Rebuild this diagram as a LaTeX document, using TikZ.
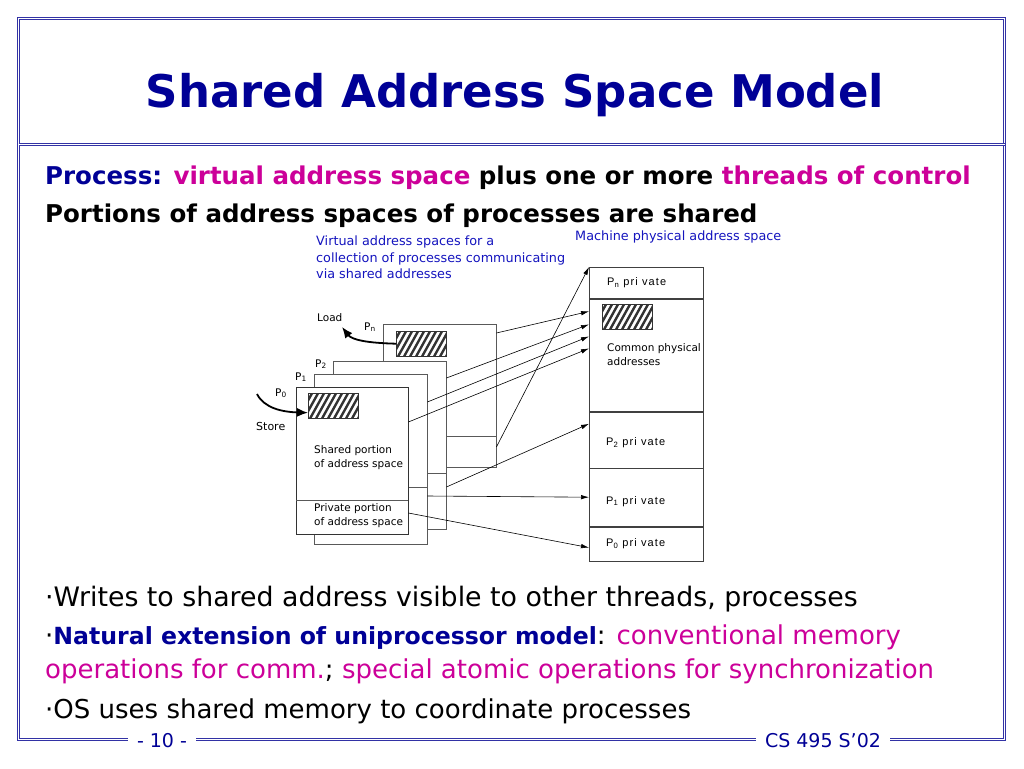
\documentclass[tikz,border=0pt]{standalone}
\usepackage{fontspec}
\setmainfont{DejaVu Sans}
\newfontfamily\labelfont[LetterSpace=10]{Liberation Sans}
\usetikzlibrary{positioning,calc,arrows.meta}

\definecolor{navy}{RGB}{0,0,150}
\definecolor{plum}{RGB}{204,0,153}
\definecolor{capblue}{RGB}{20,20,190}
\definecolor{framec}{RGB}{50,50,165}

\tikzset{
	page/.style={draw=black!65, fill=white, anchor=north west, inner sep=0pt},
	mem/.style={draw=black!75, minimum width=114pt, inner sep=0pt},
	memtext/.style={inner sep=0pt, anchor=west, align=left, font=\labelfont\fontsize{11}{13}\selectfont},
	hatch/.style={draw=black!80, anchor=north west, minimum width=50pt, minimum height=25pt, inner sep=0pt,
		path picture={\foreach \k in {-3,...,10} {\draw[line width=2.4pt] ($(path picture bounding box.south west)+(\k*6pt-4pt,0pt)$) -- ++(15pt,27pt);}}},
	lbl/.style={inner sep=0pt, font=\fontsize{10.5}{14}\selectfont, align=left},
	link/.style={-{Latex[length=8pt,width=4.5pt]}, line width=0.6pt},
	heavy/.style={-{Latex[length=11pt,width=9pt]}, line width=1.8pt},
	body/.style={anchor=base west, inner sep=0pt, font=\fontsize{26}{30}\selectfont},
	bodybold/.style={anchor=base west, inner sep=0pt, font=\fontsize{24.5}{28}\selectfont\bfseries}
}

\begin{document}
\begin{tikzpicture}[x=1pt,y=-1pt]
		\useasboundingbox (0,0) rectangle (1024,768);
		% slide frame
		\draw[framec, double=white, double distance=1.4pt, line width=1.1pt] (18.5,18.5) rectangle (1004.5,739.5);
		\draw[framec, double=white, double distance=1.4pt, line width=1.1pt] (18.5,144.5) -- (1004.5,144.5);
		\node[fill=white, inner xsep=9pt, inner ysep=2pt, text=navy, font=\fontsize{19}{22}\selectfont] (pgnum) at (162,741) {- 10 -};
		\node[fill=white, inner xsep=9pt, inner ysep=2pt, text=navy, font=\fontsize{19}{22}\selectfont] (course) at (823,741) {CS 495 S'02};
		\node[anchor=base, text=navy, font=\fontsize{45}{52}\selectfont\bfseries] (title) at (515,107) {Shared Address Space Model};
		
		% text lines
		\node[bodybold] (line1) at (45,184) {\textcolor{navy}{Process:} \textcolor{plum}{virtual address space} plus one or more \textcolor{plum}{threads of control}};
		\node[bodybold] (line2) at (45,222) {Portions of address spaces of processes are shared};
		\node[body, font=\fontsize{26.8}{30}\selectfont] (bull1) at (45,606) {·Writes to shared address visible to other threads, processes};
		\node[body] (bull2) at (45,644) {·\textcolor{navy}{\fontsize{23.6}{28}\selectfont\bfseries Natural extension of uniprocessor model}: \textcolor{plum}{conventional memory}};
		\node[body] (bull2b) at (45,678) {\textcolor{plum}{operations for comm.}; \textcolor{plum}{special atomic operations for synchronization}};
		\node[body] (bull3) at (45,718) {·OS uses shared memory to coordinate processes};
		
		% virtual address spaces
		\node[lbl, anchor=north west, text=capblue, font=\fontsize{12.8}{16.5}\selectfont] (vcap) at (316,236) {Virtual address spaces for a\\collection of processes communicating\\via shared addresses};
		\node[page, minimum width=113pt, minimum height=143pt] (pn) at (383,324) {};
		\draw[black!65] ([yshift=-112pt]pn.north west) -- ([yshift=-112pt]pn.north east);
		\node[page, minimum width=113pt, minimum height=168pt] (p2) at (333,361) {};
		\draw[black!65] ([yshift=-112pt]p2.north west) -- ([yshift=-112pt]p2.north east);
		\node[page, minimum width=113pt, minimum height=170pt] (p1) at (314,374) {};
		\draw[black!65] ([yshift=-113pt]p1.north west) -- ([yshift=-113pt]p1.north east);
		\node[page, draw=black!80, minimum width=112pt, minimum height=147pt] (p0) at (296,387) {};
		\draw[black!65] ([yshift=-113pt]p0.north west) -- ([yshift=-113pt]p0.north east);
		\node[hatch] (pnh) at (396,331) {};
		\node[hatch] (p0h) at (308,393) {};
		\node[lbl, anchor=north west] (shared) at (314,445) {Shared portion\\of address space};
		\node[lbl, anchor=north west] (private) at (314,503) {Private portion\\of address space};
		\node[lbl, anchor=base west] (pnlab) at (364,330) {P\textsubscript{n}};
		\node[lbl, anchor=base west] (p2lab) at (315,367) {P\textsubscript{2}};
		\node[lbl, anchor=base west] (p1lab) at (295,380) {P\textsubscript{1}};
		\node[lbl, anchor=base west] (p0lab) at (275,396) {P\textsubscript{0}};
		\node[lbl, anchor=base west] (load) at (317,321) {Load};
		\node[lbl, anchor=base west, font=\fontsize{11}{14}\selectfont] (store) at (256,430) {Store};
		\coordinate (loadtip) at (342,327);
		\coordinate (storetail) at (257,394);
		\draw[heavy] (pnh.west) .. controls (368,343) and (352,340) .. (loadtip);
		\draw[heavy] (storetail) .. controls (264,408) and (282,412) .. ([yshift=-7pt]p0h.west);
		
		% machine physical address space
		\node[lbl, anchor=base west, text=capblue, font=\fontsize{12.8}{14}\selectfont] (mcap) at (575,240) {Machine physical address space};
		\node[mem, anchor=north west, minimum height=31pt] (mpn) at (589,267) {};
		\node[mem, below=1pt of mpn, minimum height=112pt] (mcom) {};
		\node[mem, below=0pt of mcom, minimum height=56pt] (m2) {};
		\node[mem, below=0pt of m2, minimum height=58pt] (m1) {};
		\node[mem, below=0pt of m1, minimum height=34pt] (m0) {};
		\node[hatch] (mh) at (602,304) {};
		\node[memtext, right=18pt of mpn.west] (mpnt) {P\textsubscript{n} pri vate};
		\node[lbl, anchor=north west] (mcomt) at (607,343) {Common physical\\addresses};
		\node[memtext, right=17pt of m2.west, yshift=-3pt] (m2t) {P\textsubscript{2} pri vate};
		\node[memtext, right=17pt of m1.west, yshift=-4pt] (m1t) {P\textsubscript{1} pri vate};
		\node[memtext, right=17pt of m0.west] (m0t) {P\textsubscript{0} pri vate};
		
		% mappings
		\draw[link] ([yshift=-9pt]pn.north east) -- ([yshift=-12pt]mcom.north west);
		\draw[link] ([yshift=-17pt]p2.north east) -- ([yshift=-25pt]mcom.north west);
		\draw[link] ([yshift=-28pt]p1.north east) -- ([yshift=-37pt]mcom.north west);
		\draw[link] ([yshift=-35pt]p0.north east) -- ([yshift=-49pt]mcom.north west);
		\draw[link] ([yshift=-123pt]pn.north east) -- (mpn.north west);
		\draw[link] ([yshift=-126pt]p2.north east) -- ([yshift=-12pt]m2.north west);
		\draw[link] ([yshift=-122pt]p1.north east) -- ([yshift=-29pt]m1.north west);
		\draw[link] ([yshift=-126pt]p0.north east) -- ([yshift=-21pt]m0.north west);
\end{tikzpicture}
\end{document}
